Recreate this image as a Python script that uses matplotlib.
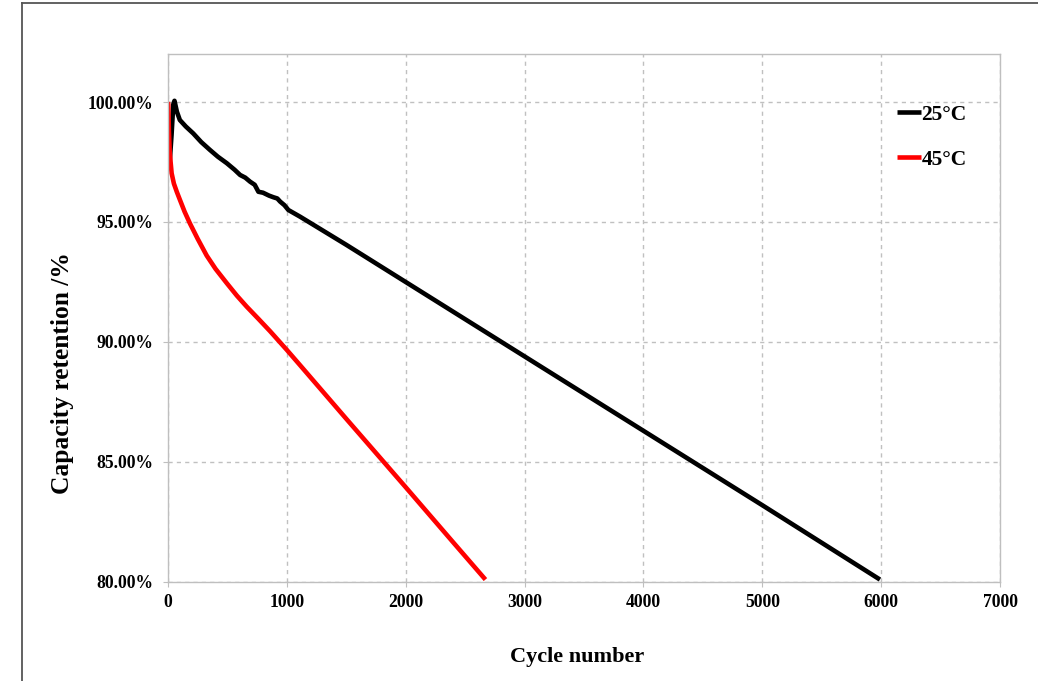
import matplotlib
matplotlib.use("Agg")
import matplotlib.pyplot as plt
from matplotlib.lines import Line2D
from matplotlib.ticker import FuncFormatter

# 25 C cycling (cycle number, retention %)
cyc_25 = [10, 30, 45, 55, 75, 100, 150, 213, 280, 354, 420, 495, 560, 607, 650, 691,
          730, 761, 800, 850, 888, 920, 944, 980, 1013, 1112, 1500, 2000, 3000, 4000, 5000, 5990]
ret_25 = [97.17, 98.6, 99.9, 100.05, 99.6, 99.25, 98.98, 98.69, 98.33, 98.0, 97.72, 97.45, 97.18, 96.96, 96.85, 96.68,
          96.55, 96.26, 96.22, 96.1, 96.03, 95.98, 95.85, 95.7, 95.5, 95.22, 94.05, 92.5, 89.4, 86.3, 83.2, 80.1]

# 45 C cycling
cyc_45 = [0, 3, 8, 15, 31, 50, 75, 101, 140, 185, 250, 326, 400, 495, 580, 663,
          760, 859, 1000, 1112, 1500, 2000, 2400, 2671]
ret_45 = [100.0, 99.9, 98.8, 97.9, 97.03, 96.6, 96.25, 95.92, 95.43, 94.94, 94.3, 93.6, 93.05, 92.45, 91.93, 91.47,
          90.97, 90.45, 89.67, 89.03, 86.8, 83.95, 81.65, 80.1]

labels = ["25\u00b0C", "45\u00b0C"]
colors = ["#000000", "#ff0000"]

x_ticks = [0, 1000, 2000, 3000, 4000, 5000, 6000, 7000]
y_ticks = [80, 85, 90, 95, 100]

plt.rcParams["font.family"] = ["Liberation Serif", "DejaVu Serif"]
plt.rcParams["font.weight"] = "bold"

fig = plt.figure(figsize=(10.38, 6.81), dpi=100)
ax = fig.add_axes([0.1618, 0.1454, 0.8016, 0.7753])

ax.plot(cyc_25, ret_25, color=colors[0], lw=3.3, label=labels[0], solid_capstyle="butt")
ax.plot(cyc_45, ret_45, color=colors[1], lw=3.3, label=labels[1], solid_capstyle="butt")

ax.set_xlim(0, 7000)
ax.set_ylim(80, 102)
ax.set_xticks(x_ticks)
ax.set_yticks(y_ticks)
ax.yaxis.set_major_formatter(FuncFormatter(lambda v, p: f"{v:.2f}%"))
ax.grid(True, color="#c0c0c0", ls=(0, (3, 3)), lw=1)
ax.set_axisbelow(True)
for s in ax.spines.values():
    s.set_color("#bfbfbf")
    s.set_linewidth(1)
ax.tick_params(axis="both", length=3.6, color="#bfbfbf", labelsize=12.7)
ax.tick_params(axis="y", pad=7)
ax.tick_params(axis="x", pad=5)
for t in ax.get_xticklabels() + ax.get_yticklabels():
    t.set_fontweight("bold")

fig.text(577 / 1038, 1 - 657 / 681, "Cycle number", fontsize=16, fontweight="bold",
         ha="center", va="center")
fig.text(62 / 1038, 1 - 373 / 681, "Capacity retention /%", fontsize=18.4, fontweight="bold",
         ha="center", va="center", rotation=90)

leg = ax.legend(loc="upper left", bbox_to_anchor=(0.876, 0.904), frameon=False, borderpad=0,
                borderaxespad=0, fontsize=15.5, handlelength=1.1, handletextpad=0.05, labelspacing=1.15)
for t in leg.get_texts():
    t.set_fontweight("bold")

# outer frame
fig.add_artist(Line2D([0.0212, 0.0212], [0, 0.9956], transform=fig.transFigure, color="#555555", lw=1.3))
fig.add_artist(Line2D([0.0212, 1.0], [0.9956, 0.9956], transform=fig.transFigure, color="#555555", lw=1.3))

fig.savefig("out.png", dpi=100)
